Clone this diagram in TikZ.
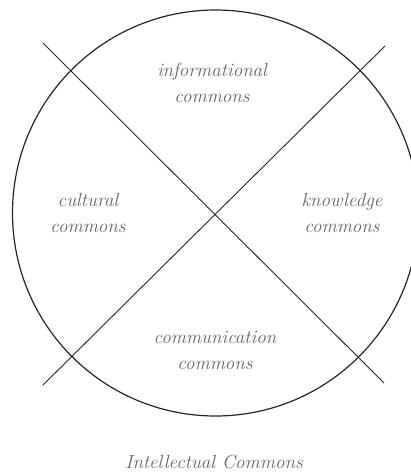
\documentclass[tikz,border=0pt]{standalone}
\usepackage{fontspec}
\setmainfont{Latin Modern Roman}
\begin{document}
\begin{tikzpicture}[x=1pt,y=-1pt,
  lbl/.style={text=black!60, font=\itshape\fontsize{19}{26}\selectfont, align=center, inner sep=0pt},
  ttl/.style={text=black!60, font=\itshape\fontsize{19}{26}\selectfont, inner sep=0pt, anchor=base},
  edge/.style={draw=black!85, line width=0.9pt}]
\useasboundingbox (0,0) rectangle (410,474);
\coordinate (c) at (215.5,213);
\draw[edge, line width=1.2pt] (c) circle[radius=203];
\coordinate (a1) at (43,43);
\coordinate (a2) at (384,383);
\coordinate (b1) at (385,46);
\coordinate (b2) at (43,385);
\draw[edge] (a1) -- (a2);
\draw[edge] (b1) -- (b2);
\node[lbl] (info) at (212,83) {informational\\commons};
\node[lbl] (cult) at (88,213) {cultural\\commons};
\node[lbl] (know) at (342,213) {knowledge\\commons};
\node[lbl] (comm) at (215,350) {communication\\commons};
\node[ttl] (title) at (214,468) {Intellectual Commons};
\end{tikzpicture}
\end{document}
